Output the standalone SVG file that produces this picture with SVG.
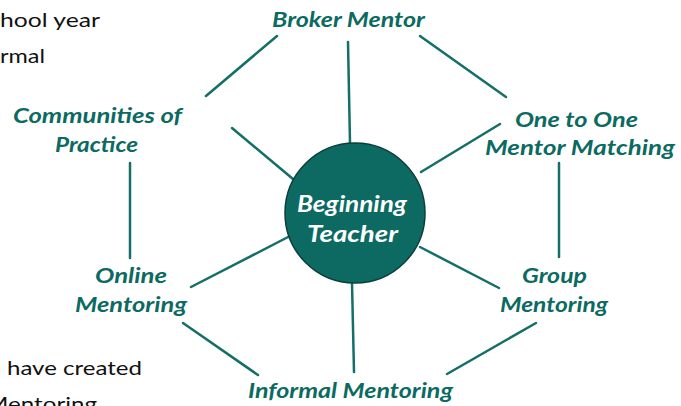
<svg xmlns="http://www.w3.org/2000/svg" width="681" height="406" viewBox="0 0 681 406">
<style>
.lbl{font-family:Lato,"Open Sans","Liberation Sans",sans-serif;font-weight:bold;font-style:italic;font-size:21px;fill:#0b6a61}
.ctr{font-family:Lato,"Open Sans","Liberation Sans",sans-serif;font-weight:bold;font-style:italic;font-size:23px;fill:#ffffff}
.body{font-family:Lato,"Liberation Sans",sans-serif;font-size:20px;fill:#111111}
.ln{stroke:#136f67;stroke-width:2.5;fill:none;stroke-linecap:round}
</style>
<rect width="681" height="406" fill="#ffffff"/>
<g id="background-text">
<text class="body" x="0" y="27" textLength="100" lengthAdjust="spacingAndGlyphs">hool year</text>
<text class="body" x="0" y="63" textLength="45" lengthAdjust="spacingAndGlyphs">rmal</text>
<text class="body" x="7" y="375" textLength="135" lengthAdjust="spacingAndGlyphs">have created</text>
<text class="body" x="-14" y="411" textLength="111" lengthAdjust="spacingAndGlyphs">Mentoring</text>
</g>
<g id="connectors">
<line class="ln" x1="348" y1="42" x2="350" y2="143"/>
<line class="ln" x1="277" y1="36" x2="206" y2="96"/>
<line class="ln" x1="420" y1="36" x2="506" y2="97"/>
<line class="ln" x1="232" y1="128" x2="293" y2="179"/>
<line class="ln" x1="500" y1="124" x2="421" y2="172"/>
<line class="ln" x1="130" y1="163" x2="130" y2="258"/>
<line class="ln" x1="559" y1="163" x2="559" y2="257"/>
<line class="ln" x1="191" y1="287" x2="290" y2="236"/>
<line class="ln" x1="420" y1="247" x2="499" y2="288"/>
<line class="ln" x1="183" y1="323" x2="258" y2="375"/>
<line class="ln" x1="536" y1="323" x2="447" y2="374"/>
<line class="ln" x1="352" y1="283" x2="354" y2="372"/>
</g>
<g id="beginning-teacher">
<circle cx="355" cy="213" r="70" fill="#0d6a62" stroke="#0a3f3a" stroke-width="1.5"/>
<text class="ctr" x="297" y="212" textLength="110" lengthAdjust="spacingAndGlyphs">Beginning</text>
<text class="ctr" x="307" y="242" textLength="91" lengthAdjust="spacingAndGlyphs">Teacher</text>
</g>
<g id="broker-mentor">
<text class="lbl" x="272" y="27" textLength="153" lengthAdjust="spacingAndGlyphs">Broker Mentor</text>
</g>
<g id="communities-of-practice">
<text class="lbl" x="13" y="123" textLength="169" lengthAdjust="spacingAndGlyphs">Communities of</text>
<text class="lbl" x="55" y="152" textLength="83" lengthAdjust="spacingAndGlyphs">Practice</text>
</g>
<g id="one-to-one">
<text class="lbl" x="515" y="127" textLength="123" lengthAdjust="spacingAndGlyphs">One to One</text>
<text class="lbl" x="485" y="155" textLength="190" lengthAdjust="spacingAndGlyphs">Mentor Matching</text>
</g>
<g id="online-mentoring">
<text class="lbl" x="95" y="283" textLength="72" lengthAdjust="spacingAndGlyphs">Online</text>
<text class="lbl" x="75" y="312" textLength="112" lengthAdjust="spacingAndGlyphs">Mentoring</text>
</g>
<g id="group-mentoring">
<text class="lbl" x="522" y="283" textLength="65" lengthAdjust="spacingAndGlyphs">Group</text>
<text class="lbl" x="500" y="312" textLength="108" lengthAdjust="spacingAndGlyphs">Mentoring</text>
</g>
<g id="informal-mentoring">
<text class="lbl" x="248" y="398" textLength="205" lengthAdjust="spacingAndGlyphs">Informal Mentoring</text>
</g>
</svg>
